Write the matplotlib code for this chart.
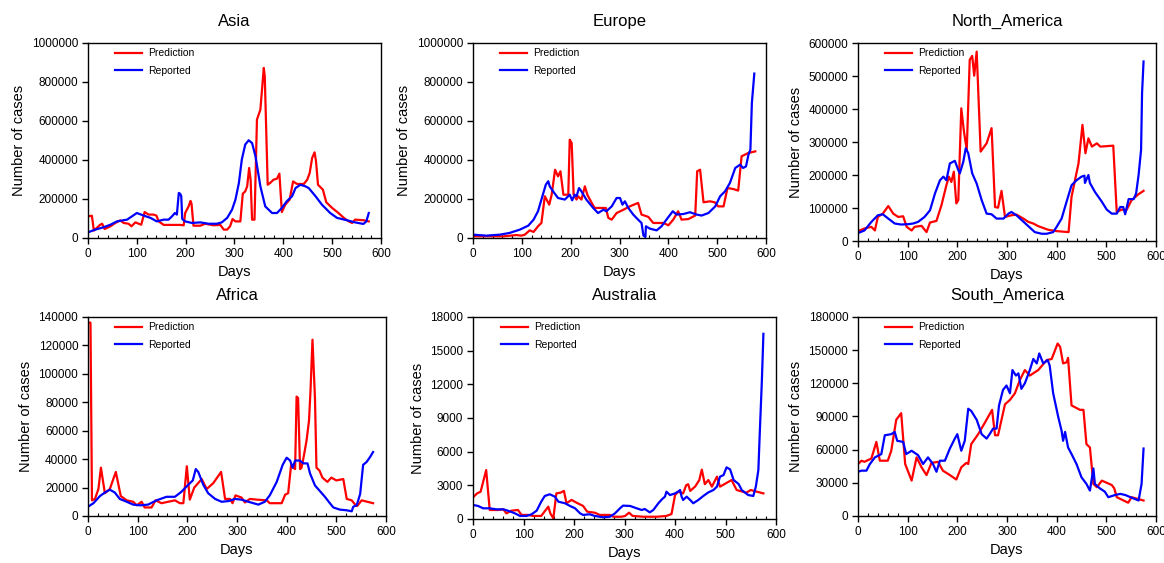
import matplotlib
matplotlib.use("Agg")
import matplotlib.pyplot as plt
from matplotlib.ticker import MultipleLocator

plt.rcParams['font.family'] = ['Liberation Sans', 'DejaVu Sans']

# ---- Asia ----
asia_pred_days = [0, 8, 12, 25, 29, 34, 46, 56, 66, 73, 83, 89, 97, 109, 116, 124, 134, 140, 145, 155,
                  169, 189, 196, 199, 206, 210, 212, 216, 230, 240, 257, 271, 278, 285, 291, 296, 302,
                  312, 317, 322, 326, 330, 333, 336, 341, 346, 353, 360, 362, 368, 373, 380, 387, 392,
                  397, 404, 413, 420, 428, 442, 449, 454, 459, 464, 467, 471, 481, 488, 500, 513, 524,
                  534, 541, 547, 564, 575]
asia_pred = [111e3, 114e3, 38e3, 68e3, 73e3, 46e3, 60e3, 77e3, 90e3, 77e3, 73e3, 60e3, 80e3, 68e3, 133e3,
             120e3, 120e3, 115e3, 85e3, 67e3, 67e3, 67e3, 65e3, 128e3, 162e3, 190e3, 176e3, 63e3, 63e3,
             73e3, 65e3, 67e3, 43e3, 43e3, 60e3, 97e3, 85e3, 85e3, 227e3, 239e3, 265e3, 359e3, 299e3,
             94e3, 94e3, 607e3, 658e3, 872e3, 829e3, 273e3, 282e3, 299e3, 304e3, 330e3, 133e3, 171e3,
             197e3, 290e3, 277e3, 277e3, 299e3, 333e3, 410e3, 439e3, 393e3, 273e3, 248e3, 183e3, 154e3,
             128e3, 103e3, 85e3, 77e3, 94e3, 91e3, 85e3]
asia_rep_days = [0, 15, 32, 46, 59, 80, 90, 100, 114, 128, 141, 155, 165, 172, 178, 182, 186, 189, 191,
                 193, 199, 213, 230, 247, 264, 274, 285, 295, 302, 309, 315, 322, 329, 336, 343, 353,
                 363, 377, 387, 397, 407, 418, 425, 435, 445, 452, 466, 479, 496, 510, 530, 547, 564,
                 570, 575]
asia_rep = [29e3, 43e3, 55e3, 68e3, 85e3, 94e3, 111e3, 128e3, 115e3, 103e3, 85e3, 94e3, 94e3, 111e3,
            128e3, 120e3, 231e3, 226e3, 214e3, 97e3, 85e3, 77e3, 80e3, 73e3, 73e3, 80e3, 103e3, 145e3,
            197e3, 282e3, 402e3, 479e3, 501e3, 487e3, 419e3, 265e3, 162e3, 128e3, 128e3, 154e3, 188e3,
            214e3, 256e3, 273e3, 265e3, 256e3, 214e3, 171e3, 128e3, 103e3, 91e3, 80e3, 72e3, 85e3, 128e3]

# ---- Europe ----
eu_pred_days = [0, 34, 62, 89, 99, 106, 116, 124, 133, 140, 147, 156, 161, 168, 174, 179, 185, 195, 198,
                202, 206, 212, 215, 222, 229, 234, 243, 249, 267, 272, 277, 284, 294, 308, 321, 338,
                345, 359, 369, 390, 400, 410, 420, 427, 441, 455, 459, 465, 472, 485, 495, 502, 513,
                521, 533, 543, 550, 564, 578]
eu_pred = [8.5e3, 8.5e3, 8.5e3, 15e3, 12e3, 17e3, 39e3, 31e3, 60e3, 77e3, 214e3, 171e3, 222e3, 350e3,
           316e3, 342e3, 222e3, 222e3, 504e3, 487e3, 222e3, 197e3, 214e3, 197e3, 265e3, 222e3, 180e3,
           154e3, 154e3, 154e3, 103e3, 94e3, 128e3, 145e3, 162e3, 180e3, 120e3, 108e3, 77e3, 77e3, 65e3,
           94e3, 137e3, 94e3, 97e3, 115e3, 342e3, 350e3, 183e3, 188e3, 183e3, 162e3, 162e3, 256e3,
           251e3, 243e3, 419e3, 436e3, 444e3]
eu_rep_days = [0, 27, 55, 75, 96, 113, 124, 133, 144, 149, 154, 157, 164, 174, 188, 198, 203, 208, 212,
               217, 222, 232, 246, 256, 267, 273, 284, 294, 301, 306, 311, 318, 328, 338, 345, 349, 353,
               354, 362, 376, 386, 396, 409, 417, 431, 444, 458, 468, 482, 496, 506, 516, 526, 537, 547,
               553, 559, 564, 568, 571, 576]
eu_rep = [17e3, 12e3, 17e3, 26e3, 43e3, 63e3, 94e3, 137e3, 231e3, 273e3, 291e3, 265e3, 239e3, 205e3,
          197e3, 222e3, 193e3, 222e3, 214e3, 256e3, 239e3, 197e3, 154e3, 128e3, 145e3, 137e3, 162e3,
          205e3, 205e3, 171e3, 188e3, 154e3, 120e3, 94e3, 77e3, 12e3, 5e3, 60e3, 48e3, 39e3, 60e3, 94e3,
          137e3, 120e3, 123e3, 132e3, 120e3, 115e3, 128e3, 162e3, 214e3, 239e3, 282e3, 359e3, 376e3,
          359e3, 367e3, 427e3, 453e3, 692e3, 843e3]

# ---- North America ----
na_pred_days = [0, 13, 27, 34, 40, 50, 61, 71, 81, 91, 98, 108, 114, 128, 138, 145, 158, 168, 178, 183,
                188, 193, 198, 202, 208, 213, 219, 225, 230, 234, 239, 247, 259, 269, 276, 282, 289,
                296, 309, 319, 333, 343, 353, 363, 383, 400, 424, 430, 444, 452, 458, 464, 471, 481,
                488, 514, 521, 531, 541, 551, 565, 575]
na_pred = [30e3, 38e3, 43e3, 32e3, 73e3, 83e3, 106e3, 83e3, 73e3, 75e3, 43e3, 32e3, 43e3, 46e3, 27e3,
           56e3, 61e3, 108e3, 169e3, 195e3, 179e3, 210e3, 114e3, 124e3, 402e3, 336e3, 276e3, 549e3,
           561e3, 501e3, 574e3, 271e3, 296e3, 342e3, 103e3, 101e3, 152e3, 73e3, 78e3, 80e3, 68e3, 58e3,
           53e3, 45e3, 34e3, 30e3, 27e3, 134e3, 235e3, 352e3, 266e3, 311e3, 286e3, 296e3, 286e3, 289e3,
           88e3, 95e3, 95e3, 124e3, 142e3, 152e3]
na_rep_days = [0, 13, 27, 40, 50, 61, 74, 87, 101, 111, 121, 134, 145, 155, 165, 172, 178, 185, 195, 202,
               205, 212, 217, 222, 230, 239, 249, 259, 269, 279, 293, 303, 309, 319, 330, 343, 356, 370,
               380, 393, 400, 410, 420, 430, 440, 450, 456, 457, 464, 467, 477, 491, 501, 511, 521, 528,
               534, 538, 545, 555, 560, 565, 570, 572, 575]
na_rep = [24e3, 32e3, 58e3, 78e3, 81e3, 68e3, 53e3, 50e3, 51e3, 53e3, 58e3, 73e3, 93e3, 144e3, 184e3,
          195e3, 184e3, 235e3, 243e3, 215e3, 205e3, 240e3, 281e3, 266e3, 205e3, 174e3, 124e3, 83e3, 81e3,
          68e3, 68e3, 83e3, 88e3, 78e3, 63e3, 45e3, 27e3, 22e3, 22e3, 27e3, 43e3, 68e3, 119e3, 169e3,
          184e3, 195e3, 198e3, 176e3, 200e3, 176e3, 149e3, 119e3, 95e3, 83e3, 83e3, 103e3, 103e3, 81e3,
          127e3, 127e3, 144e3, 200e3, 276e3, 448e3, 544e3]

# ---- Africa ----
af_pred_days = [1, 5, 8, 14, 21, 26, 34, 44, 56, 66, 78, 91, 98, 108, 114, 128, 136, 148, 175, 185, 192,
                199, 205, 214, 229, 239, 252, 268, 276, 286, 291, 297, 309, 316, 326, 340, 360, 366,
                390, 397, 403, 409, 413, 417, 420, 423, 427, 430, 435, 440, 445, 448, 452, 457, 460,
                466, 472, 482, 490, 500, 514, 521, 531, 538, 542, 551, 574]
af_pred = [136e3, 136e3, 11e3, 12e3, 19e3, 34e3, 16e3, 19e3, 31e3, 14e3, 11e3, 10e3, 7.5e3, 10e3, 6e3,
           6e3, 11e3, 9e3, 11e3, 9e3, 9e3, 35e3, 11.5e3, 20e3, 26e3, 19e3, 23e3, 31e3, 12e3, 12e3, 9e3,
           14.5e3, 13e3, 9.5e3, 12e3, 11.5e3, 11e3, 9e3, 9e3, 15e3, 16e3, 36e3, 34e3, 33e3, 84e3, 83e3,
           33e3, 34e3, 43e3, 53e3, 67e3, 88e3, 124e3, 83e3, 34e3, 32e3, 27e3, 24e3, 27e3, 25e3, 26e3,
           12e3, 11e3, 8e3, 7e3, 11e3, 9e3]
af_rep_days = [0, 11, 24, 34, 44, 54, 64, 78, 91, 105, 121, 138, 158, 175, 188, 202, 211, 217, 222, 232,
               242, 256, 269, 283, 296, 309, 323, 343, 356, 366, 380, 392, 400, 407, 412, 417, 426, 434,
               442, 447, 457, 467, 477, 487, 494, 507, 521, 531, 534, 541, 548, 554, 561, 568, 574]
af_rep = [6.5e3, 9e3, 14e3, 16.5e3, 18.5e3, 16.5e3, 12e3, 10e3, 8e3, 7.5e3, 8e3, 11e3, 13.5e3, 13.5e3,
          17e3, 22e3, 25e3, 33e3, 31e3, 22e3, 16e3, 12e3, 10e3, 10.5e3, 12e3, 11.5e3, 10e3, 8e3, 10e3,
          14.5e3, 24e3, 36e3, 41e3, 39e3, 34e3, 39e3, 39e3, 37e3, 37e3, 30e3, 21.5e3, 17.5e3, 13.5e3,
          9e3, 6e3, 4.5e3, 4e3, 3.3e3, 6.5e3, 7.5e3, 15.5e3, 36e3, 38e3, 41.5e3, 45e3]

# ---- Australia ----
au_pred_days = [0, 8, 15, 26, 33, 50, 60, 66, 76, 89, 96, 109, 119, 135, 149, 153, 159, 165, 173, 180,
                185, 195, 205, 218, 226, 241, 251, 271, 278, 294, 301, 309, 316, 337, 364, 383, 393,
                400, 406, 416, 422, 426, 430, 440, 448, 453, 459, 466, 473, 483, 489, 512, 522, 541,
                550, 562, 575]
au_pred = [1930, 2280, 2430, 4360, 800, 800, 860, 500, 740, 800, 360, 360, 270, 270, 1100, 500, 60, 2280,
           2340, 2500, 1400, 1700, 1450, 1160, 650, 560, 360, 360, 200, 200, 270, 560, 270, 200, 200,
           270, 440, 2130, 2430, 2280, 3000, 3100, 2500, 2900, 3470, 4400, 3100, 3470, 2880, 3770, 2880,
           3470, 2580, 2340, 2580, 2430, 2280]
au_rep_days = [0, 10, 20, 33, 46, 60, 69, 83, 93, 106, 116, 126, 135, 142, 152, 162, 169, 182, 192, 202,
               212, 218, 231, 241, 258, 271, 281, 291, 297, 311, 324, 334, 340, 350, 357, 367, 374, 380,
               383, 390, 400, 406, 410, 413, 416, 423, 430, 436, 446, 456, 466, 476, 483, 489, 496, 502,
               509, 516, 526, 532, 545, 555, 560, 565, 568, 572, 575]
au_rep = [1250, 1160, 950, 950, 860, 860, 740, 500, 270, 270, 420, 740, 1540, 2050, 2200, 1990, 1540,
          1400, 1160, 950, 500, 360, 420, 270, 150, 200, 500, 950, 1190, 1160, 950, 800, 890, 590, 800,
          1400, 1750, 1990, 2430, 2130, 2280, 2430, 2580, 1990, 1690, 1990, 1690, 1400, 1690, 2050, 2370,
          2580, 2880, 3770, 3910, 4600, 4420, 3470, 3110, 2580, 2130, 2050, 2880, 4360, 7900, 12400, 16500]

# ---- South America ----
sa_pred_days = [0, 7, 13, 27, 37, 44, 60, 67, 77, 87, 95, 108, 118, 128, 138, 148, 161, 171, 185, 198,
                208, 218, 222, 228, 242, 255, 270, 276, 282, 296, 306, 316, 326, 336, 346, 363, 380,
                390, 402, 407, 413, 420, 423, 430, 447, 454, 460, 467, 474, 481, 491, 511, 516, 521,
                544, 551, 575]
sa_pred = [47e3, 50e3, 49e3, 52e3, 67e3, 50e3, 50e3, 59e3, 87e3, 93e3, 47e3, 32e3, 53e3, 44e3, 37e3, 48e3,
           49e3, 41e3, 37e3, 33e3, 44e3, 48e3, 47e3, 65e3, 74e3, 84e3, 96e3, 73e3, 73e3, 101e3, 105e3,
           111e3, 123e3, 132e3, 127e3, 132e3, 141e3, 142e3, 156e3, 153e3, 138e3, 139e3, 143e3, 100e3,
           96e3, 96e3, 65e3, 62e3, 29e3, 26e3, 32e3, 28e3, 25e3, 17e3, 12e3, 17e3, 14e3]
sa_rep_days = [0, 7, 17, 24, 34, 47, 54, 67, 74, 79, 91, 97, 108, 121, 131, 141, 151, 158, 165, 175, 185,
               195, 200, 208, 215, 222, 228, 239, 249, 259, 265, 272, 279, 284, 292, 299, 306, 311, 318,
               323, 329, 336, 346, 353, 360, 365, 373, 382, 386, 393, 403, 410, 413, 417, 423, 430, 440,
               450, 460, 467, 474, 477, 487, 497, 504, 518, 528, 538, 554, 565, 571, 575]
sa_rep = [40e3, 41e3, 41e3, 47e3, 53e3, 56e3, 73e3, 74e3, 76e3, 68e3, 67e3, 56e3, 59e3, 55e3, 47e3, 53e3,
          47e3, 40e3, 50e3, 50e3, 61e3, 70e3, 74e3, 59e3, 68e3, 97e3, 95e3, 87e3, 74e3, 70e3, 74e3, 79e3,
          79e3, 100e3, 114e3, 118e3, 111e3, 132e3, 127e3, 129e3, 115e3, 120e3, 132e3, 142e3, 138e3,
          147e3, 138e3, 141e3, 136e3, 111e3, 90e3, 77e3, 68e3, 76e3, 62e3, 56e3, 47e3, 35e3, 29e3, 23e3,
          43e3, 29e3, 25e3, 22e3, 17e3, 19e3, 20e3, 19e3, 16e3, 14e3, 29e3, 61e3]

titles = ['Asia', 'Europe', 'North_America', 'Africa', 'Australia', 'South_America']
ymax = [1000000, 1000000, 600000, 140000, 18000, 180000]
ystep = [200000, 200000, 100000, 20000, 3000, 30000]

series = [
    (asia_pred_days, asia_pred, asia_rep_days, asia_rep),
    (eu_pred_days, eu_pred, eu_rep_days, eu_rep),
    (na_pred_days, na_pred, na_rep_days, na_rep),
    (af_pred_days, af_pred, af_rep_days, af_rep),
    (au_pred_days, au_pred, au_rep_days, au_rep),
    (sa_pred_days, sa_pred, sa_rep_days, sa_rep),
]

# axes boxes in figure fractions [left, bottom, width, height]
boxes = [
    [0.0756, 0.5773, 0.2517, 0.3464],
    [0.4064, 0.5773, 0.2517, 0.3464],
    [0.7371, 0.5719, 0.2560, 0.3517],
    [0.0756, 0.0835, 0.2560, 0.3535],
    [0.4064, 0.0782, 0.2603, 0.3588],
    [0.7371, 0.0835, 0.2560, 0.3535],
]

fig = plt.figure(figsize=(11.64, 5.63), dpi=100)

for i in range(6):
    ax = fig.add_axes(boxes[i])
    pd_, pv, rd, rv = series[i]
    ax.plot(pd_, pv, color='#ff0000', lw=1.6, label='Prediction')
    ax.plot(rd, rv, color='#0000ff', lw=1.6, label='Reported')
    ax.set_xlim(0, 600)
    ax.set_ylim(0, ymax[i])
    ax.xaxis.set_major_locator(MultipleLocator(100))
    ax.xaxis.set_minor_locator(MultipleLocator(20))
    ax.yaxis.set_major_locator(MultipleLocator(ystep[i]))
    ax.ticklabel_format(axis='y', style='plain', useOffset=False)
    ax.tick_params(axis='both', which='major', direction='out', length=4, width=1, labelsize=8.5, pad=3)
    ax.tick_params(axis='x', which='minor', direction='in', length=2.5, width=0.8)
    for s in ax.spines.values():
        s.set_linewidth(1.0)
    ax.set_title(titles[i], fontsize=12, pad=12)
    ax.set_xlabel('Days', fontsize=10.5, labelpad=4)
    ax.set_ylabel('Number of cases', fontsize=10.5, labelpad=4)
    ax.legend(loc='upper left', bbox_to_anchor=(0.06, 1.02), frameon=False, fontsize=7.5,
              handlelength=2.6, labelspacing=0.7, handletextpad=0.6)

fig.savefig('out.png', dpi=100)
